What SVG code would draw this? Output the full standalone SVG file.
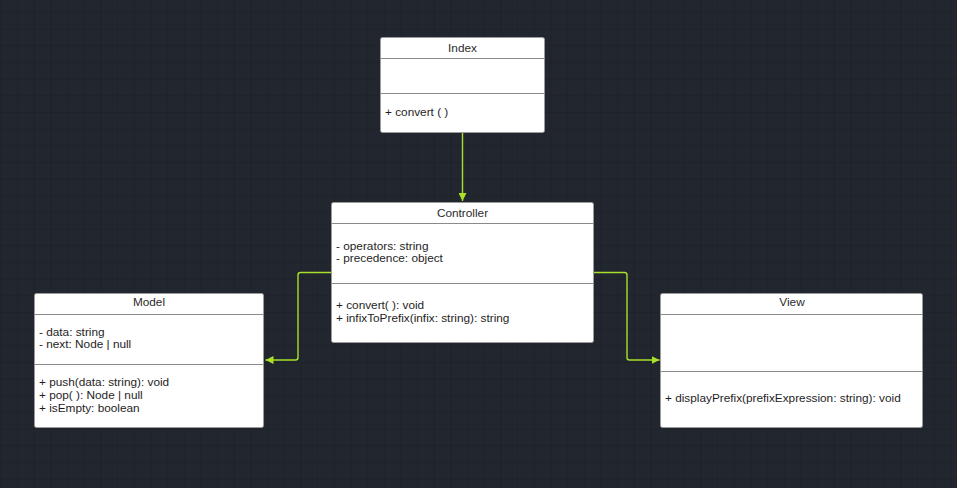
<svg xmlns="http://www.w3.org/2000/svg" width="957" height="488" viewBox="0 0 957 488">
<defs>
<pattern id="grid" x="0.5" y="12" width="16.6667" height="16.6667" patternUnits="userSpaceOnUse">
<path d="M0 0 H16.6667 M0 0 V16.6667" fill="none" stroke="#1b1e24" stroke-width="1"/>
</pattern>
<marker id="arr" viewBox="0 0 10 10" refX="10" refY="5" markerWidth="8" markerHeight="8" markerUnits="userSpaceOnUse" orient="auto">
<path d="M0 0 L10 5 L0 10 Z" fill="#a8e02a"/>
</marker>
<style>
.box{fill:#ffffff;stroke:#9a9a9a;stroke-width:1}
.div{stroke:#8a8a8a;stroke-width:1}
.t{font-family:"Liberation Sans",Arial,sans-serif;font-size:11.8px;fill:#1e1e1e}
.h{font-family:"Liberation Sans",Arial,sans-serif;font-size:11.8px;fill:#2a2a2a;text-anchor:middle}
.c{fill:none;stroke:#a8e02a;stroke-width:1.4;stroke-linejoin:round}
</style>
</defs>
<rect width="957" height="488" fill="#22262e"/>
<rect width="957" height="488" fill="url(#grid)"/>

<g id="connectors">
<path class="c" d="M462.5 132 V201" marker-end="url(#arr)"/>
<path class="c" d="M331 272.5 H300.5 Q298 272.5 298 275 V357.5 Q298 360 295.5 360 H265.5" marker-end="url(#arr)"/>
<path class="c" d="M594 272.5 H624.5 Q627 272.5 627 275 V357.5 Q627 360 629.5 360 H659.5" marker-end="url(#arr)"/>
</g>

<g id="index">
<rect class="box" x="380.5" y="37.5" width="164" height="95" rx="2"/>
<line class="div" x1="380.5" y1="58.5" x2="544.5" y2="58.5"/>
<line class="div" x1="380.5" y1="93.5" x2="544.5" y2="93.5"/>
<text class="h" x="462.5" y="51.5">Index</text>
<text class="t" x="385" y="116">+ convert ( )</text>
</g>

<g id="controller">
<rect class="box" x="331.5" y="202.5" width="262" height="140" rx="2"/>
<line class="div" x1="331.5" y1="223.5" x2="593.5" y2="223.5"/>
<line class="div" x1="331.5" y1="283.5" x2="593.5" y2="283.5"/>
<text class="h" x="462.5" y="216.5">Controller</text>
<text class="t" x="336" y="249.5">- operators: string</text>
<text class="t" x="336" y="261.5">- precedence: object</text>
<text class="t" x="336" y="308.5">+ convert( ): void</text>
<text class="t" x="336" y="321.5">+ infixToPrefix(infix: string): string</text>
</g>

<g id="model">
<rect class="box" x="34.5" y="293.5" width="229" height="134" rx="2"/>
<line class="div" x1="34.5" y1="314.5" x2="263.5" y2="314.5"/>
<line class="div" x1="34.5" y1="364.5" x2="263.5" y2="364.5"/>
<text class="h" x="149" y="305.5">Model</text>
<text class="t" x="39" y="335.5">- data: string</text>
<text class="t" x="39" y="347.5">- next: Node | null</text>
<text class="t" x="39" y="385.5">+ push(data: string): void</text>
<text class="t" x="39" y="398.5">+ pop( ): Node | null</text>
<text class="t" x="39" y="411.5">+ isEmpty: boolean</text>
</g>

<g id="view">
<rect class="box" x="660.5" y="293.5" width="262" height="134" rx="2"/>
<line class="div" x1="660.5" y1="314.5" x2="922.5" y2="314.5"/>
<line class="div" x1="660.5" y1="371.5" x2="922.5" y2="371.5"/>
<text class="h" x="792" y="305.5">View</text>
<text class="t" x="665" y="402">+ displayPrefix(prefixExpression: string): void</text>
</g>
</svg>
